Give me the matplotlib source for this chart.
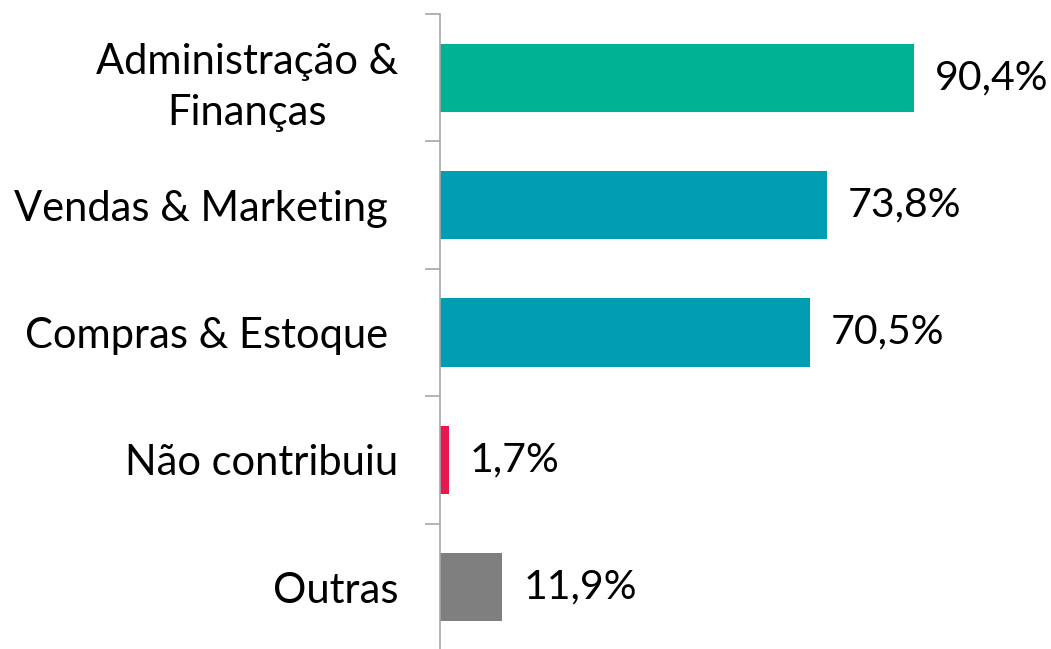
import numpy as np
import matplotlib.pyplot as plt

# --- DATA ---
categories = ['Administração &\nFinanças', 'Vendas & Marketing ', 'Compras & Estoque ',
              'Não contribuiu', 'Outras']
values = [90.4, 73.8, 70.5, 1.7, 11.9]
value_labels = ['90,4%', '73,8%', '70,5%', '1,7%', '11,9%']
colors = ['#00B294', '#009DB3', '#E8174D', '#7F7F7F']
bar_colors = [colors[0], colors[1], colors[1], colors[2], colors[3]]

plt.rcParams['font.family'] = ['Lato', 'DejaVu Sans']

fig = plt.figure(figsize=(10.51, 6.49), dpi=100)
ax = fig.add_axes([0.4187, -0.003, 0.499, 0.9815])

n = len(categories)
y = np.arange(n)
ax.barh(y, values, height=0.535, color=bar_colors)

for yi, v, lab in zip(y, values, value_labels):
    ax.annotate(lab, (v, yi), xytext=(15, 0), textcoords='offset points',
                va='center', ha='left', fontsize=29.5)

ax.set_xlim(0, 100)
ax.set_ylim(n - 0.5, -0.5)

# boundary ticks (major, no labels) and centered category labels (minor)
ax.set_yticks(np.arange(n + 1) - 0.5, labels=[''] * (n + 1))
ax.set_yticks(y, labels=categories, minor=True)
ax.tick_params(axis='y', which='major', length=11, width=1.2, color='#A6A6A6')
ax.tick_params(axis='y', which='minor', length=0, pad=30, labelsize=30)
for t in ax.get_yticklabels(minor=True):
    t.set_multialignment('center')
    t.set_linespacing(1.4)

ax.set_xticks([])
for s in ['top', 'right', 'bottom']:
    ax.spines[s].set_visible(False)
ax.spines['left'].set_color('#A6A6A6')
ax.spines['left'].set_linewidth(1.2)

fig.savefig('out.png', dpi=100)
